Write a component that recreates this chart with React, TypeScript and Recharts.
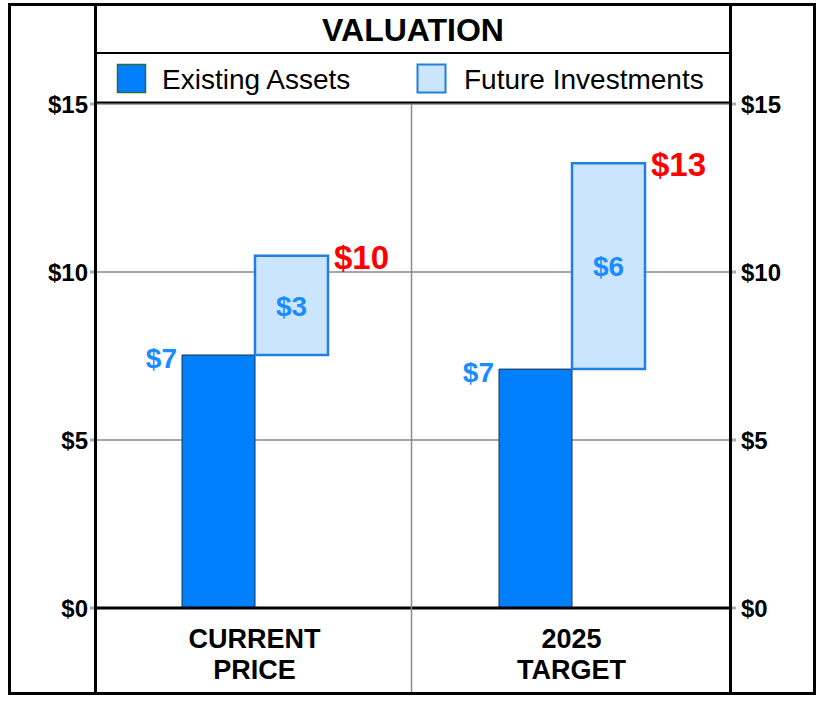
import React from "react";
import {
  ComposedChart,
  Bar,
  Line,
  XAxis,
  YAxis,
  CartesianGrid,
  LabelList,
} from "recharts";

const categories: string[][] = [
  ["CURRENT", "PRICE"],
  ["2025", "TARGET"],
];
const existingAssets: number[] = [7.53, 7.11];
const futureInvestments: number[] = [2.95, 6.13];
const existingLabels: string[] = ["$7", "$7"];
const futureLabels: string[] = ["$3", "$6"];
const totalLabels: string[] = ["$10", "$13"];
const yTicks: number[] = [0, 5, 10, 15];
const seriesNames: string[] = ["Existing Assets", "Future Investments"];
const chartTitle = "VALUATION";

const FONT = '"Liberation Sans", Arial, Helvetica, sans-serif';
const BLUE = "#0080FF";
const LIGHT = "#CCE5FF";
const LABEL_BLUE = "#1a8cff";

const data = categories.map((c, i) => ({
  name: c.join(" "),
  idx: i,
  existing: existingAssets[i],
  future: [existingAssets[i], existingAssets[i] + futureInvestments[i]],
}));

const XTick = (props: any) => {
  const { x, y, payload } = props;
  const lines = categories[payload.index] || [];
  return (
    <text
      x={x}
      y={y}
      textAnchor="middle"
      fontFamily={FONT}
      fontWeight="bold"
      fontSize={27}
      fill="#000"
    >
      {lines.map((l, k) => (
        <tspan key={k} x={x} y={y + 32 + k * 31}>
          {l}
        </tspan>
      ))}
    </text>
  );
};

const ExistingLabel = (props: any) => {
  const { x, y, index } = props;
  return (
    <text
      x={x - 5}
      y={y + 3}
      dy="0.36em"
      textAnchor="end"
      fontFamily={FONT}
      fontWeight="bold"
      fontSize={28}
      fill={LABEL_BLUE}
    >
      {existingLabels[index]}
    </text>
  );
};

const FutureCenterLabel = (props: any) => {
  const { x, y, width, height, index } = props;
  return (
    <text
      x={x + width / 2}
      y={y + height / 2}
      dy="0.36em"
      textAnchor="middle"
      fontFamily={FONT}
      fontWeight="bold"
      fontSize={28}
      fill={LABEL_BLUE}
    >
      {futureLabels[index]}
    </text>
  );
};

const TotalLabel = (props: any) => {
  const { x, y, width, index } = props;
  return (
    <text
      x={x + width + 6}
      y={y + 1}
      dy="0.36em"
      textAnchor="start"
      fontFamily={FONT}
      fontWeight="bold"
      fontSize={33}
      fill="#FF0000"
    >
      {totalLabels[index]}
    </text>
  );
};

const yFmt = (v: number) => `$${v}`;
const tickStyle = { fontFamily: FONT, fontWeight: "bold", fontSize: 24, fill: "#000" };

export default function App() {
  return (
    <div
      style={{
        position: "absolute",
        left: 0,
        top: 0,
        width: 824,
        height: 704,
        background: "#fff",
      }}
    >
      <ComposedChart
        width={824}
        height={704}
        data={data}
        margin={{ top: 104, right: 10, bottom: 10, left: 10 }}
        barGap={0}
        style={{ position: "absolute", left: 0, top: 0 }}
      >
        <CartesianGrid yAxisId="left" vertical={false} stroke="#8a8a8a" strokeWidth={1.5} />
        <XAxis
          dataKey="name"
          tickLine={false}
          axisLine={{ stroke: "#000", strokeWidth: 3 }}
          height={86}
          interval={0}
          tick={<XTick />}
        />
        <YAxis
          yAxisId="left"
          orientation="left"
          domain={[0, 15]}
          ticks={yTicks}
          width={86}
          tickFormatter={yFmt}
          tickSize={6}
          tickMargin={2}
          axisLine={false}
          tickLine={{ stroke: "#aaa", strokeWidth: 3 }}
          tick={tickStyle}
        />
        <YAxis
          yAxisId="right"
          orientation="right"
          domain={[0, 15]}
          ticks={yTicks}
          width={84}
          tickFormatter={yFmt}
          tickSize={6}
          tickMargin={5}
          axisLine={false}
          tickLine={{ stroke: "#aaa", strokeWidth: 3 }}
          tick={tickStyle}
        />
        <Bar
          yAxisId="left"
          dataKey="existing"
          name={seriesNames[0]}
          fill={BLUE}
          stroke="#1c3340"
          strokeWidth={1}
          barSize={73}
          isAnimationActive={false}
        >
          <LabelList dataKey="existing" content={<ExistingLabel />} />
        </Bar>
        <Bar
          yAxisId="left"
          dataKey="future"
          name={seriesNames[1]}
          fill={LIGHT}
          stroke="#1f80e0"
          strokeWidth={2.5}
          barSize={73}
          isAnimationActive={false}
        >
          <LabelList dataKey="future" content={<FutureCenterLabel />} />
          <LabelList dataKey="future" content={<TotalLabel />} />
        </Bar>
        <Line
          yAxisId="right"
          dataKey="existing"
          stroke="none"
          dot={false}
          activeDot={false}
          legendType="none"
          isAnimationActive={false}
        />
      </ComposedChart>
      <svg
        width={824}
        height={704}
        style={{ position: "absolute", left: 0, top: 0, pointerEvents: "none" }}
      >
        <line x1={411.5} y1={104} x2={411.5} y2={693} stroke="#8a8a8a" strokeWidth={1.5} />
        <rect x={9.5} y={4.5} width={805} height={689} fill="none" stroke="#000" strokeWidth={3} />
        <line x1={95.5} y1={4.5} x2={95.5} y2={693.5} stroke="#000" strokeWidth={3} />
        <line x1={730.5} y1={4.5} x2={730.5} y2={693.5} stroke="#000" strokeWidth={3} />
        <line x1={95.5} y1={53} x2={730.5} y2={53} stroke="#000" strokeWidth={2} />
        <line x1={95.5} y1={102.5} x2={730.5} y2={102.5} stroke="#000" strokeWidth={2} />
        <text
          x={413}
          y={41}
          textAnchor="middle"
          fontFamily={FONT}
          fontWeight="bold"
          fontSize={32}
          fill="#000"
        >
          {chartTitle}
        </text>
        <rect x={117.5} y={64.5} width={28} height={28} fill={BLUE} stroke="#2f6a3a" strokeWidth={1.5} />
        <text x={162} y={89} fontFamily={FONT} fontSize={28} fill="#000">
          {seriesNames[0]}
        </text>
        <rect x={417.5} y={64.5} width={28} height={28} fill={LIGHT} stroke="#1f80e0" strokeWidth={2} />
        <text x={464} y={89} fontFamily={FONT} fontSize={28} fill="#000">
          {seriesNames[1]}
        </text>
      </svg>
    </div>
  );
}
